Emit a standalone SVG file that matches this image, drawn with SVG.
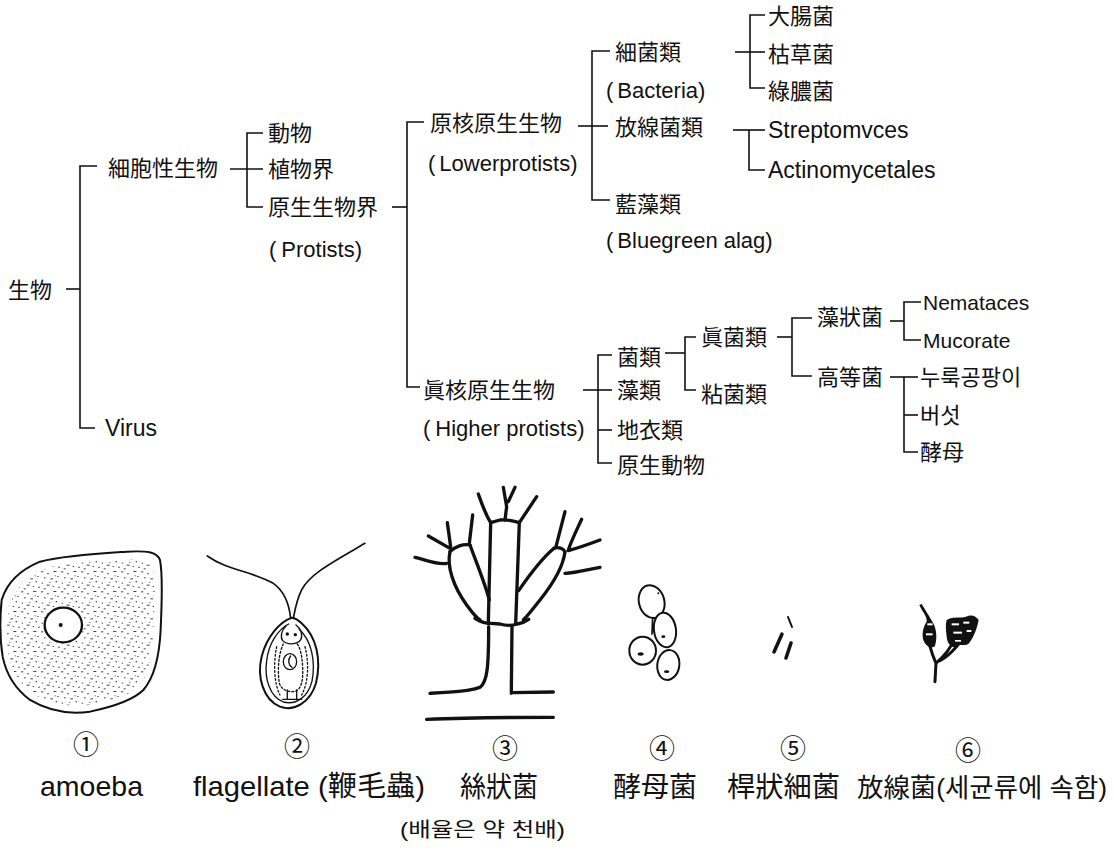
<svg xmlns="http://www.w3.org/2000/svg" width="1114" height="852" viewBox="0 0 1114 852">
  <style>
    text { fill: #111; font-family: "Liberation Sans", "Noto Sans CJK KR", sans-serif; }
    .cj { font-size: 22px; }
    .la { font-size: 23px; }
    .lp { font-size: 22px; }
    .ls { font-size: 21px; }
    .num { font-size: 26px; font-family: "Noto Sans CJK KR", "Noto Sans CJK JP", sans-serif; text-anchor: middle; }
    .cap { font-size: 28px; }
    .tree line, .tree polyline { stroke: #111; stroke-width: 1.6; fill: none; }
    .ink { fill: none; stroke: #111; stroke-linecap: round; stroke-linejoin: round; }
  </style>
  <defs>
    <pattern id="stipple" width="60" height="60" patternUnits="userSpaceOnUse">
      <g fill="#222">
        <rect x="3" y="4" width="7" height="3"/>
        <rect x="22" y="9" width="4" height="4"/>
        <rect x="40" y="3" width="9" height="3"/>
        <rect x="52" y="18" width="4" height="3"/>
        <rect x="12" y="22" width="5" height="3"/>
        <rect x="31" y="25" width="8" height="3"/>
        <rect x="47" y="33" width="4" height="4"/>
        <rect x="5" y="38" width="4" height="3"/>
        <rect x="20" y="44" width="9" height="3"/>
        <rect x="38" y="48" width="4" height="3"/>
        <rect x="55" y="50" width="4" height="4"/>
        <rect x="11" y="55" width="6" height="3"/>
        <rect x="28" y="36" width="3" height="3"/>
        <rect x="44" y="16" width="3" height="3"/>
      </g>
    </pattern>
  </defs>

  <!-- classification tree: connectors -->
  <g id="connectors" class="tree">
    <!-- root -->
    <line x1="66" y1="289" x2="80" y2="289"/>
    <polyline points="97,166 80,166 80,428 95,428"/>
    <!-- cellular organisms -->
    <line x1="230" y1="169" x2="263" y2="169"/>
    <polyline points="263,133 247,133 247,207 263,207"/>
    <!-- protists -->
    <line x1="392" y1="207" x2="407" y2="207"/>
    <polyline points="424,122 407,122 407,387 420,387"/>
    <!-- lower protists -->
    <line x1="578" y1="126" x2="608" y2="126"/>
    <polyline points="610,51 592,51 592,200 610,200"/>
    <!-- bacteria -->
    <line x1="735" y1="52" x2="765" y2="52"/>
    <polyline points="765,15 750,15 750,88 765,88"/>
    <!-- actinomycetes -->
    <line x1="733" y1="130" x2="765" y2="130"/>
    <polyline points="749,130 749,170 765,170"/>
    <!-- higher protists -->
    <line x1="583" y1="390" x2="612" y2="390"/>
    <polyline points="612,355 598,355 598,463 612,463"/>
    <line x1="598" y1="430" x2="612" y2="430"/>
    <!-- fungi -->
    <line x1="665" y1="353" x2="685" y2="353"/>
    <polyline points="696,337 685,337 685,390 696,390"/>
    <!-- eumycetes -->
    <line x1="777" y1="337" x2="792" y2="337"/>
    <polyline points="812,318 792,318 792,376 812,376"/>
    <!-- phycomycetes -->
    <line x1="890" y1="321" x2="904" y2="321"/>
    <polyline points="921,302 904,302 904,340 921,340"/>
    <!-- higher fungi -->
    <line x1="890" y1="377" x2="918" y2="377"/>
    <polyline points="904,377 904,452 918,452"/>
    <line x1="904" y1="415" x2="918" y2="415"/>
  </g>

  <!-- classification tree: nodes -->
  <g id="n-organism"><text class="cj" x="8" y="298">生物</text></g>
  <g id="n-cellular"><text class="cj" x="108" y="176">細胞性生物</text></g>
  <g id="n-virus"><text class="la" x="105" y="436">Virus</text></g>
  <g id="n-animal"><text class="cj" x="268" y="141">動物</text></g>
  <g id="n-plant"><text class="cj" x="268" y="177">植物界</text></g>
  <g id="n-protist">
    <text class="cj" x="268" y="215">原生生物界</text>
    <text class="lp" x="269" y="257">(<tspan dx="5">Protists)</tspan></text>
  </g>
  <g id="n-lower">
    <text class="cj" x="430" y="131">原核原生生物</text>
    <text class="lp" x="428" y="171">(<tspan dx="4">Lowerprotists)</tspan></text>
  </g>
  <g id="n-bacteria">
    <text class="cj" x="615" y="60">細菌類</text>
    <text class="lp" x="606" y="98">(<tspan dx="4">Bacteria)</tspan></text>
  </g>
  <g id="n-actino"><text class="cj" x="615" y="135">放線菌類</text></g>
  <g id="n-bluegreen">
    <text class="cj" x="615" y="212">藍藻類</text>
    <text class="lp" x="606" y="248">(<tspan dx="4">Bluegreen alag)</tspan></text>
  </g>
  <g id="n-ecoli"><text class="cj" x="768" y="24">大腸菌</text></g>
  <g id="n-subtilis"><text class="cj" x="768" y="62">枯草菌</text></g>
  <g id="n-pyocyaneus"><text class="cj" x="768" y="99">綠膿菌</text></g>
  <g id="n-strepto"><text class="la" x="768" y="138">Streptomvces</text></g>
  <g id="n-actinomycetales"><text class="la" x="768" y="178">Actinomycetales</text></g>
  <g id="n-higher">
    <text class="cj" x="423" y="398">眞核原生生物</text>
    <text class="lp" x="423" y="436">(<tspan dx="5">Higher protists)</tspan></text>
  </g>
  <g id="n-fungi"><text class="cj" x="617" y="365">菌類</text></g>
  <g id="n-algae"><text class="cj" x="617" y="398">藻類</text></g>
  <g id="n-lichen"><text class="cj" x="617" y="438">地衣類</text></g>
  <g id="n-protozoa"><text class="cj" x="617" y="473">原生動物</text></g>
  <g id="n-eumycetes"><text class="cj" x="701" y="345">眞菌類</text></g>
  <g id="n-slime"><text class="cj" x="701" y="402">粘菌類</text></g>
  <g id="n-phyco"><text class="cj" x="817" y="325">藻狀菌</text></g>
  <g id="n-higherfungi"><text class="cj" x="817" y="385">高等菌</text></g>
  <g id="n-nemataces"><text class="ls" x="923" y="310">Nemataces</text></g>
  <g id="n-mucorate"><text class="ls" x="923" y="348">Mucorate</text></g>
  <g id="n-koji"><text class="cj" x="920" y="385">누룩공팡이</text></g>
  <g id="n-mushroom"><text class="cj" x="920" y="423">버섯</text></g>
  <g id="n-yeast"><text class="cj" x="920" y="460">酵母</text></g>

  <!-- 1: amoeba -->
  <g id="amoeba" transform="translate(0,490) scale(0.3333)">
    <path d="M30,340 C50,290 90,255 140,235 C210,215 300,212 380,208 C430,206 455,215 460,240 C468,300 462,380 458,450 C452,520 440,570 410,595 C380,620 330,632 270,645 C205,652 150,640 100,612 C60,585 35,545 25,495 C18,440 20,390 30,340 Z" fill="url(#stipple)" opacity="0.85"/>
    <path class="ink" stroke-width="6" d="M5,330 C20,280 60,240 120,215 C200,195 300,190 380,185 C440,182 470,185 480,210 C490,260 485,340 482,420 C478,500 465,560 430,600 C400,630 340,650 270,665 C200,675 140,660 90,630 C50,600 20,560 8,500 C0,450 0,380 5,330 Z"/>
    <ellipse cx="190" cy="405" rx="56" ry="52" fill="#fff" stroke="#111" stroke-width="7"/>
    <circle cx="182" cy="405" r="6" fill="#111"/>
  </g>

  <!-- 2: flagellate -->
  <g id="flagellate" transform="translate(0,490) scale(0.3333)">
    <path class="ink" stroke-width="5" d="M622,198 C680,240 760,245 820,280 C855,305 868,345 872,385"/>
    <path class="ink" stroke-width="5" d="M1095,160 C1010,210 930,250 905,300 C890,330 885,360 880,385"/>
    <path class="ink" stroke-width="6" d="M876,383 C840,395 800,440 785,500 C770,560 790,630 840,650 C880,665 930,640 948,580 C965,510 950,440 905,400 C895,390 886,384 876,383 Z"/>
    <path class="ink" stroke-width="4" d="M866,402 C832,420 806,462 800,512 C792,570 812,622 850,636 C890,646 924,620 936,574 C948,512 934,452 898,418"/>
    <path class="ink" stroke-width="4" d="M858,408 C845,420 840,440 848,452 C860,465 892,465 902,450 C910,435 902,415 888,405"/>
    <circle cx="862" cy="432" r="5" fill="#111"/>
    <circle cx="886" cy="434" r="5" fill="#111"/>
    <path class="ink" stroke-width="4" stroke-dasharray="6 6" d="M850,462 C836,490 832,540 838,580 C845,600 865,608 885,604 C905,598 910,570 908,530 C906,495 900,470 890,460"/>
    <ellipse cx="870" cy="515" rx="20" ry="24" fill="none" stroke="#111" stroke-width="4"/>
    <path class="ink" stroke-width="4" d="M872,498 C862,510 866,525 876,532"/>
    <path class="ink" stroke-width="4" stroke-dasharray="5 7" d="M830,470 C820,520 822,580 840,615 M915,470 C928,520 925,580 905,615"/>
    <path class="ink" stroke-width="4" d="M848,628 L905,628 M862,600 L862,628 M890,600 L890,628"/>
  </g>

  <!-- 3: filamentous fungus -->
  <g id="mould" transform="translate(400,480) scale(0.3333)">
    <g class="ink" stroke-width="10">
      <path d="M90,640 C160,636 215,633 240,622 C262,606 266,560 266,440"/>
      <path d="M336,440 L334,640 M334,638 L460,636"/>
      <path d="M80,718 C200,713 330,712 460,712"/>
      <path d="M225,415 C240,425 255,430 272,430 L300,432 C320,438 340,436 352,432 C366,430 376,425 386,418"/>
      <path d="M272,130 L265,430"/>
      <path d="M358,128 L347,432"/>
      <path d="M235,42 C245,70 255,100 272,128 L300,120 C320,118 340,122 358,128 C370,110 390,80 410,50"/>
      <path d="M310,22 L320,80 L315,120 M345,22 L325,65"/>
      <path d="M150,215 C140,260 160,320 200,375 C215,395 225,410 240,420"/>
      <path d="M210,195 C230,250 255,310 268,360"/>
      <path d="M150,215 C165,200 190,190 210,195"/>
      <path d="M85,168 L150,205 M142,128 L152,200 M218,105 L208,190 M45,232 C80,240 110,255 140,250"/>
      <path d="M495,215 C490,260 460,310 420,360 C400,385 385,405 370,420"/>
      <path d="M462,205 C420,240 385,290 356,332"/>
      <path d="M462,205 C475,200 490,205 495,215"/>
      <path d="M495,95 L468,200 M545,118 C530,150 515,180 505,210 M600,180 C560,195 530,205 505,212 M600,262 C560,270 520,280 495,280"/>
    </g>
  </g>

  <!-- 4: yeast -->
  <g id="yeast" transform="translate(400,490) scale(0.3333)">
    <g fill="#fff" stroke="#111" stroke-width="6">
      <ellipse cx="755" cy="335" rx="38" ry="50" transform="rotate(-15 755 335)"/>
      <ellipse cx="795" cy="420" rx="33" ry="52" transform="rotate(-8 795 420)"/>
      <ellipse cx="728" cy="482" rx="40" ry="42"/>
      <ellipse cx="805" cy="525" rx="33" ry="45" transform="rotate(8 805 525)"/>
    </g>
    <path class="ink" stroke-width="5" d="M758,384 L756,432"/>
    <g fill="#111">
      <ellipse cx="722" cy="492" rx="9" ry="5"/>
      <ellipse cx="800" cy="545" rx="8" ry="4"/>
      <ellipse cx="790" cy="440" rx="6" ry="4"/>
      <circle cx="775" cy="310" r="3"/>
    </g>
  </g>

  <!-- 5: rod-shaped bacteria -->
  <g id="rods" stroke="#111" stroke-linecap="round">
    <line x1="788" y1="617" x2="792" y2="627" stroke-width="2"/>
    <line x1="782" y1="634" x2="774" y2="652" stroke-width="3.5"/>
    <line x1="791" y1="643" x2="786" y2="658" stroke-width="3.5"/>
  </g>

  <!-- 6: actinomycete -->
  <g id="actinomycete" transform="translate(690,490) scale(0.3333)">
    <path class="ink" stroke-width="9" d="M735,575 L738,520 M738,520 C725,490 715,460 712,425 M738,520 C760,500 780,480 792,450 M750,512 C790,490 820,450 852,392"/>
    <path d="M688,345 C700,370 712,380 710,395 C700,410 695,430 700,450 C708,470 725,478 735,468 C742,445 740,420 730,400 C722,385 712,370 695,342 Z" fill="#111"/>
    <path d="M770,390 C790,378 812,385 828,380 C845,372 858,378 866,390 C860,420 850,445 835,462 C820,470 805,460 800,470 C785,475 772,462 770,440 C768,420 766,405 770,390 Z" fill="#111"/>
    <g fill="#fff">
      <rect x="712" y="400" width="16" height="6"/>
      <rect x="708" y="430" width="20" height="6"/>
      <rect x="785" y="400" width="22" height="6"/>
      <rect x="820" y="395" width="18" height="6"/>
      <rect x="790" y="425" width="26" height="6"/>
      <rect x="830" y="420" width="14" height="6"/>
      <rect x="795" y="450" width="18" height="5"/>
    </g>
  </g>

  <!-- specimen captions -->
  <g id="cap-1">
    <text class="num" x="86" y="754">①</text>
    <text class="cap" x="40" y="796" textLength="103" lengthAdjust="spacingAndGlyphs">amoeba</text>
  </g>
  <g id="cap-2">
    <text class="num" x="297" y="756">②</text>
    <text class="cap" x="193" y="796" textLength="232" lengthAdjust="spacingAndGlyphs">flagellate (鞭毛蟲)</text>
  </g>
  <g id="cap-3">
    <text class="num" x="505" y="758">③</text>
    <text class="cap" x="460" y="797" textLength="78" lengthAdjust="spacingAndGlyphs">絲狀菌</text>
  </g>
  <g id="cap-4">
    <text class="num" x="662" y="758">④</text>
    <text class="cap" x="613" y="797" textLength="84" lengthAdjust="spacingAndGlyphs">酵母菌</text>
  </g>
  <g id="cap-5">
    <text class="num" x="793" y="758">⑤</text>
    <text class="cap" x="727" y="797" textLength="113" lengthAdjust="spacingAndGlyphs">桿狀細菌</text>
  </g>
  <g id="cap-6">
    <text class="num" x="968" y="760">⑥</text>
    <text x="857" y="797" font-size="26" textLength="250" lengthAdjust="spacingAndGlyphs">放線菌(세균류에 속함)</text>
  </g>
  <g id="scale-note">
    <text x="400" y="837" font-size="20" textLength="165" lengthAdjust="spacingAndGlyphs">(배율은 약 천배)</text>
  </g>
</svg>
